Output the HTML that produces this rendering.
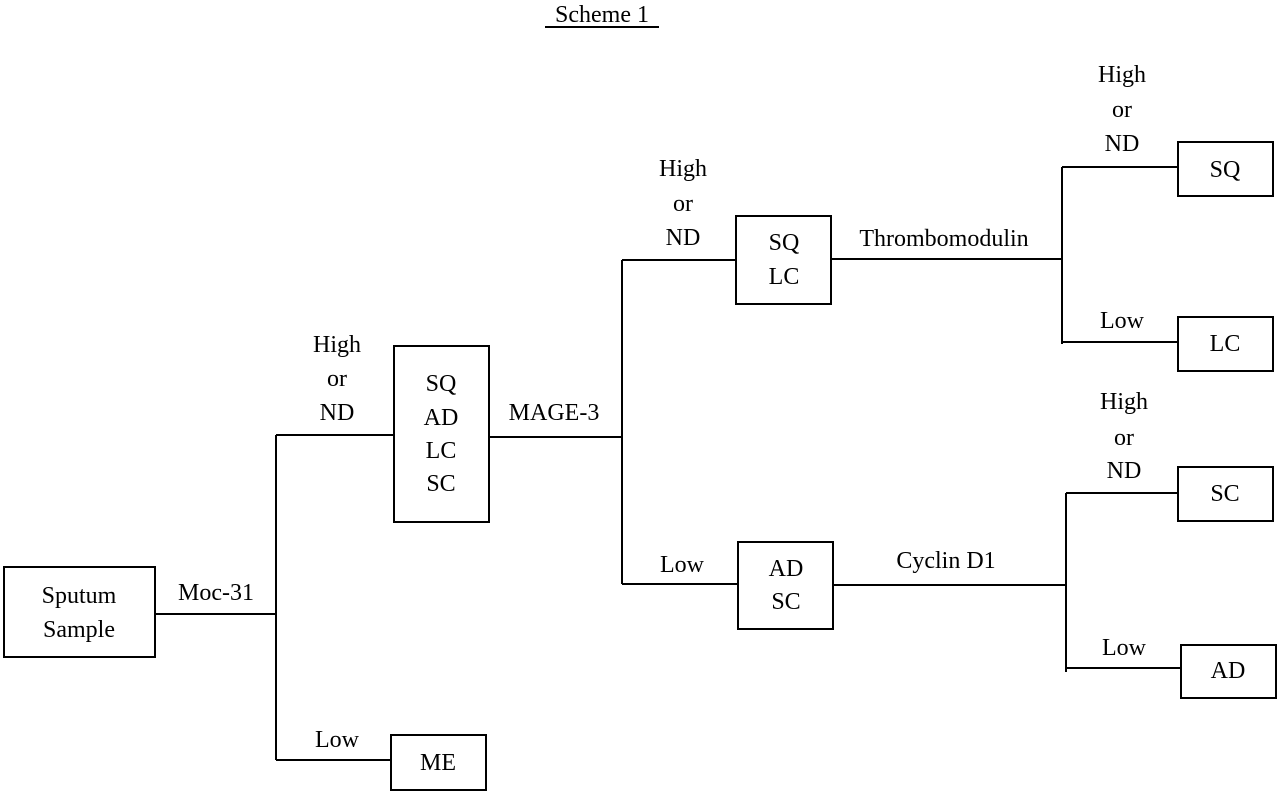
<!DOCTYPE html>
<html><head><meta charset="utf-8"><style>html,body{margin:0;padding:0;background:#fff}svg{display:block}text{font-family:"Liberation Serif",serif;font-size:24px;fill:#000}</style></head><body>
<svg width="1280" height="794" viewBox="0 0 1280 794" xmlns="http://www.w3.org/2000/svg">
<g fill="none" stroke="#000" stroke-width="2">
<rect x="4" y="567" width="151" height="90"/>
<rect x="394" y="346" width="95" height="176"/>
<rect x="391" y="735" width="95" height="55"/>
<rect x="736" y="216" width="95" height="88"/>
<rect x="738" y="542" width="95" height="87"/>
<rect x="1178" y="142" width="95" height="54"/>
<rect x="1178" y="317" width="95" height="54"/>
<rect x="1178" y="467" width="95" height="54"/>
<rect x="1181" y="645" width="95" height="53"/>
<path d="M155 614H275M276 435V760M276 435H394M276 760H391"/>
<path d="M489 437H622M622 260V584M622 260H736M622 584H738"/>
<path d="M831 259H1062M1062 167V344M1062 167H1178M1062 342H1178"/>
<path d="M833 585H1066M1066 493V672M1066 493H1178M1066 668H1181"/>
<path d="M545 27H659"/>
</g>
<g text-anchor="middle">
<text x="602" y="22">Scheme 1</text>
<text x="79" y="603">Sputum</text><text x="79" y="637">Sample</text>
<text x="216" y="600">Moc-31</text>
<text x="337" y="352">High</text><text x="337" y="386">or</text><text x="337" y="420">ND</text>
<text x="337" y="747">Low</text>
<text x="441" y="391">SQ</text><text x="441" y="425">AD</text><text x="441" y="458">LC</text><text x="441" y="491">SC</text>
<text x="438" y="770">ME</text>
<text x="554" y="420">MAGE-3</text>
<text x="683" y="176">High</text><text x="683" y="211">or</text><text x="683" y="245">ND</text>
<text x="682" y="572">Low</text>
<text x="784" y="250">SQ</text><text x="784" y="284">LC</text>
<text x="786" y="576">AD</text><text x="786" y="609">SC</text>
<text x="944" y="246">Thrombomodulin</text>
<text x="946" y="568">Cyclin D1</text>
<text x="1122" y="82">High</text><text x="1122" y="117">or</text><text x="1122" y="151">ND</text>
<text x="1122" y="328">Low</text>
<text x="1124" y="409">High</text><text x="1124" y="445">or</text><text x="1124" y="478">ND</text>
<text x="1124" y="655">Low</text>
<text x="1225" y="177">SQ</text>
<text x="1225" y="351">LC</text>
<text x="1225" y="501">SC</text>
<text x="1228" y="678">AD</text>
</g>
</svg>
</body></html>
